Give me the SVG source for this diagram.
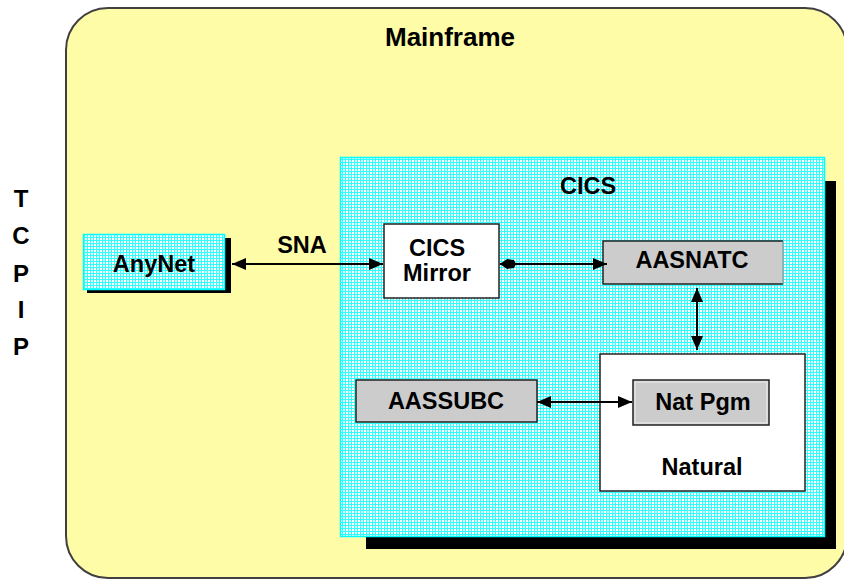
<svg xmlns="http://www.w3.org/2000/svg" width="844" height="579" viewBox="0 0 844 579">
<style>
.t{font-family:"Liberation Sans",Arial,sans-serif;font-weight:bold;fill:#000;text-anchor:middle}
.m{font-size:23.5px}
.line{stroke:#000;stroke-width:2;fill:none}
.gray{fill:#CCCCCC;stroke:#222;stroke-width:1.5}
.white{fill:#FFFFFF;stroke:#222;stroke-width:1.5}
</style>
<defs>
<pattern id="dots" width="3" height="3" patternUnits="userSpaceOnUse">
<rect width="3" height="3" fill="#30FFFF"/>
<rect x="1" y="1" width="2" height="2" fill="#FAFFFF"/>
</pattern>
<marker id="arr" viewBox="0 0 14 12" refX="14" refY="6" markerWidth="14" markerHeight="12" markerUnits="userSpaceOnUse" orient="auto-start-reverse">
<path d="M0,0 L14,6 L0,12 Z" fill="#000"/>
</marker>
<marker id="blob" viewBox="0 0 16 12" refX="0" refY="6" markerWidth="16" markerHeight="12" markerUnits="userSpaceOnUse" orient="auto">
<path d="M0,6 L7,1 L14,2 L16,6 L14,10 L7,11 Z" fill="#000"/>
</marker>
</defs>

<g id="mainframe">
<rect x="66" y="8" width="781" height="570" rx="42" ry="42" fill="#FFFCA8" stroke="#404040" stroke-width="2"/>
<text class="t" x="450" y="46" font-size="26">Mainframe</text>
</g>

<g id="tcpip">
<text class="t" x="21" y="207" font-size="24">T</text>
<text class="t" x="21" y="244" font-size="24">C</text>
<text class="t" x="21" y="282" font-size="24">P</text>
<text class="t" x="21" y="318" font-size="24">I</text>
<text class="t" x="21" y="355" font-size="24">P</text>
</g>

<g id="cics">
<rect x="366" y="181" width="470" height="368" fill="#000"/>
<rect x="340.5" y="157.5" width="484" height="379" fill="url(#dots)" stroke="#00FFFF" stroke-width="1.5"/>
<text class="t m" x="588" y="194">CICS</text>
</g>

<g id="anynet">
<rect x="87" y="238" width="144" height="55" fill="#000"/>
<rect x="83.5" y="234.5" width="141" height="55" fill="url(#dots)" stroke="#00FFFF" stroke-width="1.5"/>
<text class="t m" x="154" y="272">AnyNet</text>
</g>

<g id="cics-mirror">
<rect class="white" x="384" y="224" width="115" height="74"/>
<text class="t m" x="437" y="256">CICS</text>
<text class="t m" x="437" y="281">Mirror</text>
</g>

<g id="aasnatc">
<rect x="603" y="241" width="180" height="43" fill="#CCCCCC"/>
<path d="M783,241 H603 V284 H783" fill="none" stroke="#222" stroke-width="1.5"/>
<path d="M783,241 V284" fill="none" stroke="#888" stroke-width="1"/>
<text class="t m" x="692" y="268">AASNATC</text>
</g>

<g id="natural">
<rect class="white" x="600" y="354" width="205" height="137"/>
<text class="t m" x="702" y="475">Natural</text>
</g>

<g id="nat-pgm">
<rect class="gray" x="633" y="380" width="136" height="45"/>
<rect x="635" y="382" width="132" height="41" fill="none" stroke="#EEEEEE" stroke-width="1"/>
<text class="t m" x="703" y="410">Nat Pgm</text>
</g>

<g id="aassubc">
<rect class="gray" x="356" y="380" width="181" height="42"/>
<text class="t m" x="446" y="409">AASSUBC</text>
</g>

<g id="sna-label">
<text class="t m" x="302" y="253">SNA</text>
</g>

<g id="connectors">
<path class="line" d="M232,264 H383" marker-start="url(#arr)" marker-end="url(#arr)"/>
<path class="line" d="M500,264 H607" marker-start="url(#blob)" marker-end="url(#arr)"/>
<path class="line" d="M697,288 V350" marker-start="url(#arr)" marker-end="url(#arr)"/>
<path class="line" d="M537,402 H632" marker-start="url(#arr)" marker-end="url(#arr)"/>
</g>
</svg>
